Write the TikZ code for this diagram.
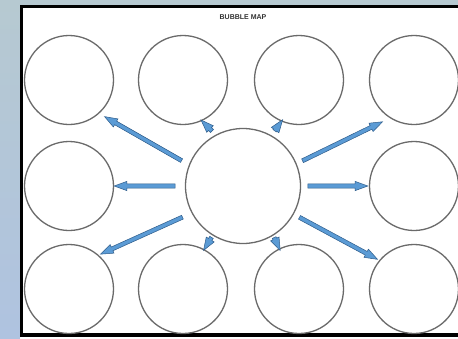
\documentclass[tikz,border=0pt]{standalone}
\usepackage{fontspec}
\setsansfont{Liberation Sans}
\usetikzlibrary{shapes.arrows,calc}
\definecolor{bgtopc}{HTML}{B6C9D1}
\definecolor{bgbotc}{HTML}{AFC3E0}
\definecolor{arrowfill}{HTML}{5B9BD5}
\definecolor{arrowline}{HTML}{2E5C8A}
\definecolor{ring}{HTML}{6A6A6A}
\tikzset{
  bubble/.style={circle, draw=ring, line width=1.3pt, minimum size=89pt, inner sep=0pt},
  hub/.style={bubble, minimum size=115pt},
  blockarrow/.style={single arrow, draw=arrowline, fill=arrowfill, line width=0.5pt,
    inner sep=1.8pt, outer sep=0pt, single arrow head extend=2.6pt, single arrow tip angle=40},
  titletext/.style={font=\sffamily\bfseries\fontsize{7}{8}\selectfont, text=black!80}
}
\newcommand\blockarr[2]{\path let \p1=($(#2)-(#1)$), \n1={veclen(\x1,\y1)}, \n2={atan2(\y1,\x1)} in
  node[blockarrow, minimum height=\n1, rotate=\n2] at ($(#1)!0.5!(#2)$) {};}
\begin{document}
\begin{tikzpicture}[x=1pt,y=-1pt]
\useasboundingbox (0,0) rectangle (458,338);
\shade[top color=bgtopc, bottom color=bgbotc] (0,0) rectangle (458,338);
\fill[white] (20,5) rectangle (460,340);
\draw[black, line width=3pt] (21.5,337) -- (21.5,6.5) -- (460,6.5);
\draw[black, line width=3.5pt] (20,335) -- (460,335);
\node[titletext] (title) at (243,17) {BUBBLE MAP};
% bubbles
\node[hub] (c) at (243,186) {};
\node[bubble] (t1) at (69,80) {};
\node[bubble] (t2) at (183,80) {};
\node[bubble] (t3) at (299,80) {};
\node[bubble] (t4) at (414,80) {};
\node[bubble] (m1) at (69,186) {};
\node[bubble] (m4) at (414,186) {};
\node[bubble] (b1) at (69,289) {};
\node[bubble] (b2) at (183,289) {};
\node[bubble] (b3) at (299,289) {};
\node[bubble] (b4) at (414,289) {};
% arrow ends
\coordinate (s1) at (184,162); \coordinate (e1) at (107,118);
\coordinate (s2) at (178,186); \coordinate (e2) at (117,186);
\coordinate (s3) at (300,162); \coordinate (e3) at (380,123);
\coordinate (s4) at (305,186); \coordinate (e4) at (365,186);
\coordinate (s5) at (185,216); \coordinate (e5) at (103,253);
\coordinate (s6) at (297,216); \coordinate (e6) at (375,258);
\coordinate (s7) at (214,133); \coordinate (e7) at (203,122);
\coordinate (s8) at (273,133); \coordinate (e8) at (281,122);
\coordinate (s9) at (213,235); \coordinate (e9) at (205,248);
\coordinate (s10) at (273,235); \coordinate (e10) at (279,248);
\blockarr{s1}{e1}
\blockarr{s2}{e2}
\blockarr{s3}{e3}
\blockarr{s4}{e4}
\blockarr{s5}{e5}
\blockarr{s6}{e6}
\blockarr{s7}{e7}
\blockarr{s8}{e8}
\blockarr{s9}{e9}
\blockarr{s10}{e10}
\end{tikzpicture}
\end{document}
